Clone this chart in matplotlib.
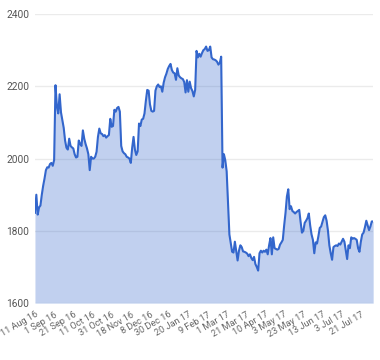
import matplotlib.pyplot as plt
import matplotlib.transforms as mtransforms
import numpy as np

# daily closing values, 11 Aug 16 .. early Aug 17
values = [
    1850, 1900, 1845, 1865, 1870, 1900, 1925, 1945, 1968, 1976,
    1975, 1985, 1988, 1980, 1996, 2203, 2145, 2125, 2178, 2128,
    2107, 2085, 2050, 2030, 2025, 2055, 2035, 2031, 2028, 2012,
    2003, 2005, 2050, 2040, 2035, 2078, 2055, 2040, 2028, 2012,
    1968, 2005, 2000, 2000, 2005, 2019, 2060, 2083, 2070, 2068,
    2062, 2065, 2058, 2062, 2065, 2110, 2088, 2090, 2135, 2130,
    2140, 2143, 2130, 2035, 2020, 2015, 2012, 2005, 2003, 2000,
    1988, 2030, 2060, 2025, 2010, 2020, 2097, 2090, 2108, 2110,
    2125, 2160, 2190, 2188, 2150, 2132, 2130, 2132, 2188, 2200,
    2205, 2198, 2200, 2185, 2210, 2225, 2235, 2248, 2256, 2262,
    2245, 2238, 2236, 2218, 2250, 2230, 2225, 2222, 2220, 2212,
    2183, 2217, 2185, 2213, 2195, 2187, 2172, 2190, 2298, 2280,
    2290, 2282, 2292, 2300, 2303, 2310, 2298, 2300, 2310, 2280,
    2275, 2274, 2272, 2268, 2260, 2265, 2282, 1975, 2012, 1995,
    1965, 1880, 1790, 1765, 1742, 1740, 1770, 1745, 1718, 1745,
    1760, 1755, 1743, 1742, 1740, 1737, 1730, 1735, 1725, 1719,
    1728, 1708, 1700, 1690, 1738, 1745, 1740, 1745, 1742, 1748,
    1735, 1760, 1780, 1735, 1782, 1752, 1750, 1748, 1750, 1762,
    1768, 1775, 1815, 1850, 1895, 1915, 1860, 1868, 1855, 1852,
    1848, 1852, 1855, 1858, 1825, 1795, 1800, 1822, 1828, 1835,
    1848, 1815, 1790, 1775, 1738, 1768, 1765, 1785, 1808, 1812,
    1825, 1838, 1843, 1828, 1800, 1760, 1738, 1720, 1755, 1758,
    1760, 1758, 1765, 1762, 1770, 1778, 1770, 1745, 1722, 1760,
    1752, 1782, 1778, 1780, 1778, 1775, 1752, 1742, 1770, 1790,
    1795, 1810, 1828, 1815, 1802, 1812, 1826, 1826,
]

tick_labels = ['11 Aug 16', '1 Sep 16', '21 Sep 16', '11 Oct 16', '31 Oct 16',
               '18 Nov 16', '8 Dec 16', '30 Dec 16', '20 Jan 17', '9 Feb 17',
               '1 Mar 17', '21 Mar 17', '10 Apr 17', '3 May 17', '23 May 17',
               '13 Jun 17', '3 Jul 17', '21 Jul 17']
tick_step = 14

y_ticks = [1600, 1800, 2000, 2200, 2400]

plt.rcParams['font.family'] = ['Roboto', 'DejaVu Sans']

fig = plt.figure(figsize=(3.8, 3.6), dpi=100)
ax = fig.add_axes([0.092, 0.158, 0.89, 0.803])

x = np.arange(len(values))
line_color = '#3366cc'

ax.fill_between(x, values, 1600, color=line_color, alpha=0.3, linewidth=0, zorder=2)
ax.plot(x, values, color=line_color, linewidth=1.5, zorder=3)

ax.set_xlim(0, len(values) - 1)
ax.set_ylim(1600, 2400)
ax.set_yticks(y_ticks)
ax.set_yticklabels([str(v) for v in y_ticks])
ax.set_xticks(np.arange(len(tick_labels)) * tick_step)
ax.set_xticklabels(tick_labels, rotation=30, ha='right', va='top',
                   rotation_mode='anchor')

# nudge the slanted date labels a little to the right
shift = mtransforms.ScaledTranslation(5 / 100, 0, fig.dpi_scale_trans)
for lbl in ax.get_xticklabels():
    lbl.set_transform(lbl.get_transform() + shift)

ax.grid(axis='y', color='#ebebeb', linewidth=1, zorder=1)
ax.set_axisbelow(True)
for s in ax.spines.values():
    s.set_visible(False)
ax.tick_params(axis='both', length=0, labelsize=7.3, colors='#555555')
ax.tick_params(axis='x', labelsize=6.6, colors='#666666', pad=5)
ax.tick_params(axis='y', pad=4)

fig.savefig('out.png', dpi=100)
